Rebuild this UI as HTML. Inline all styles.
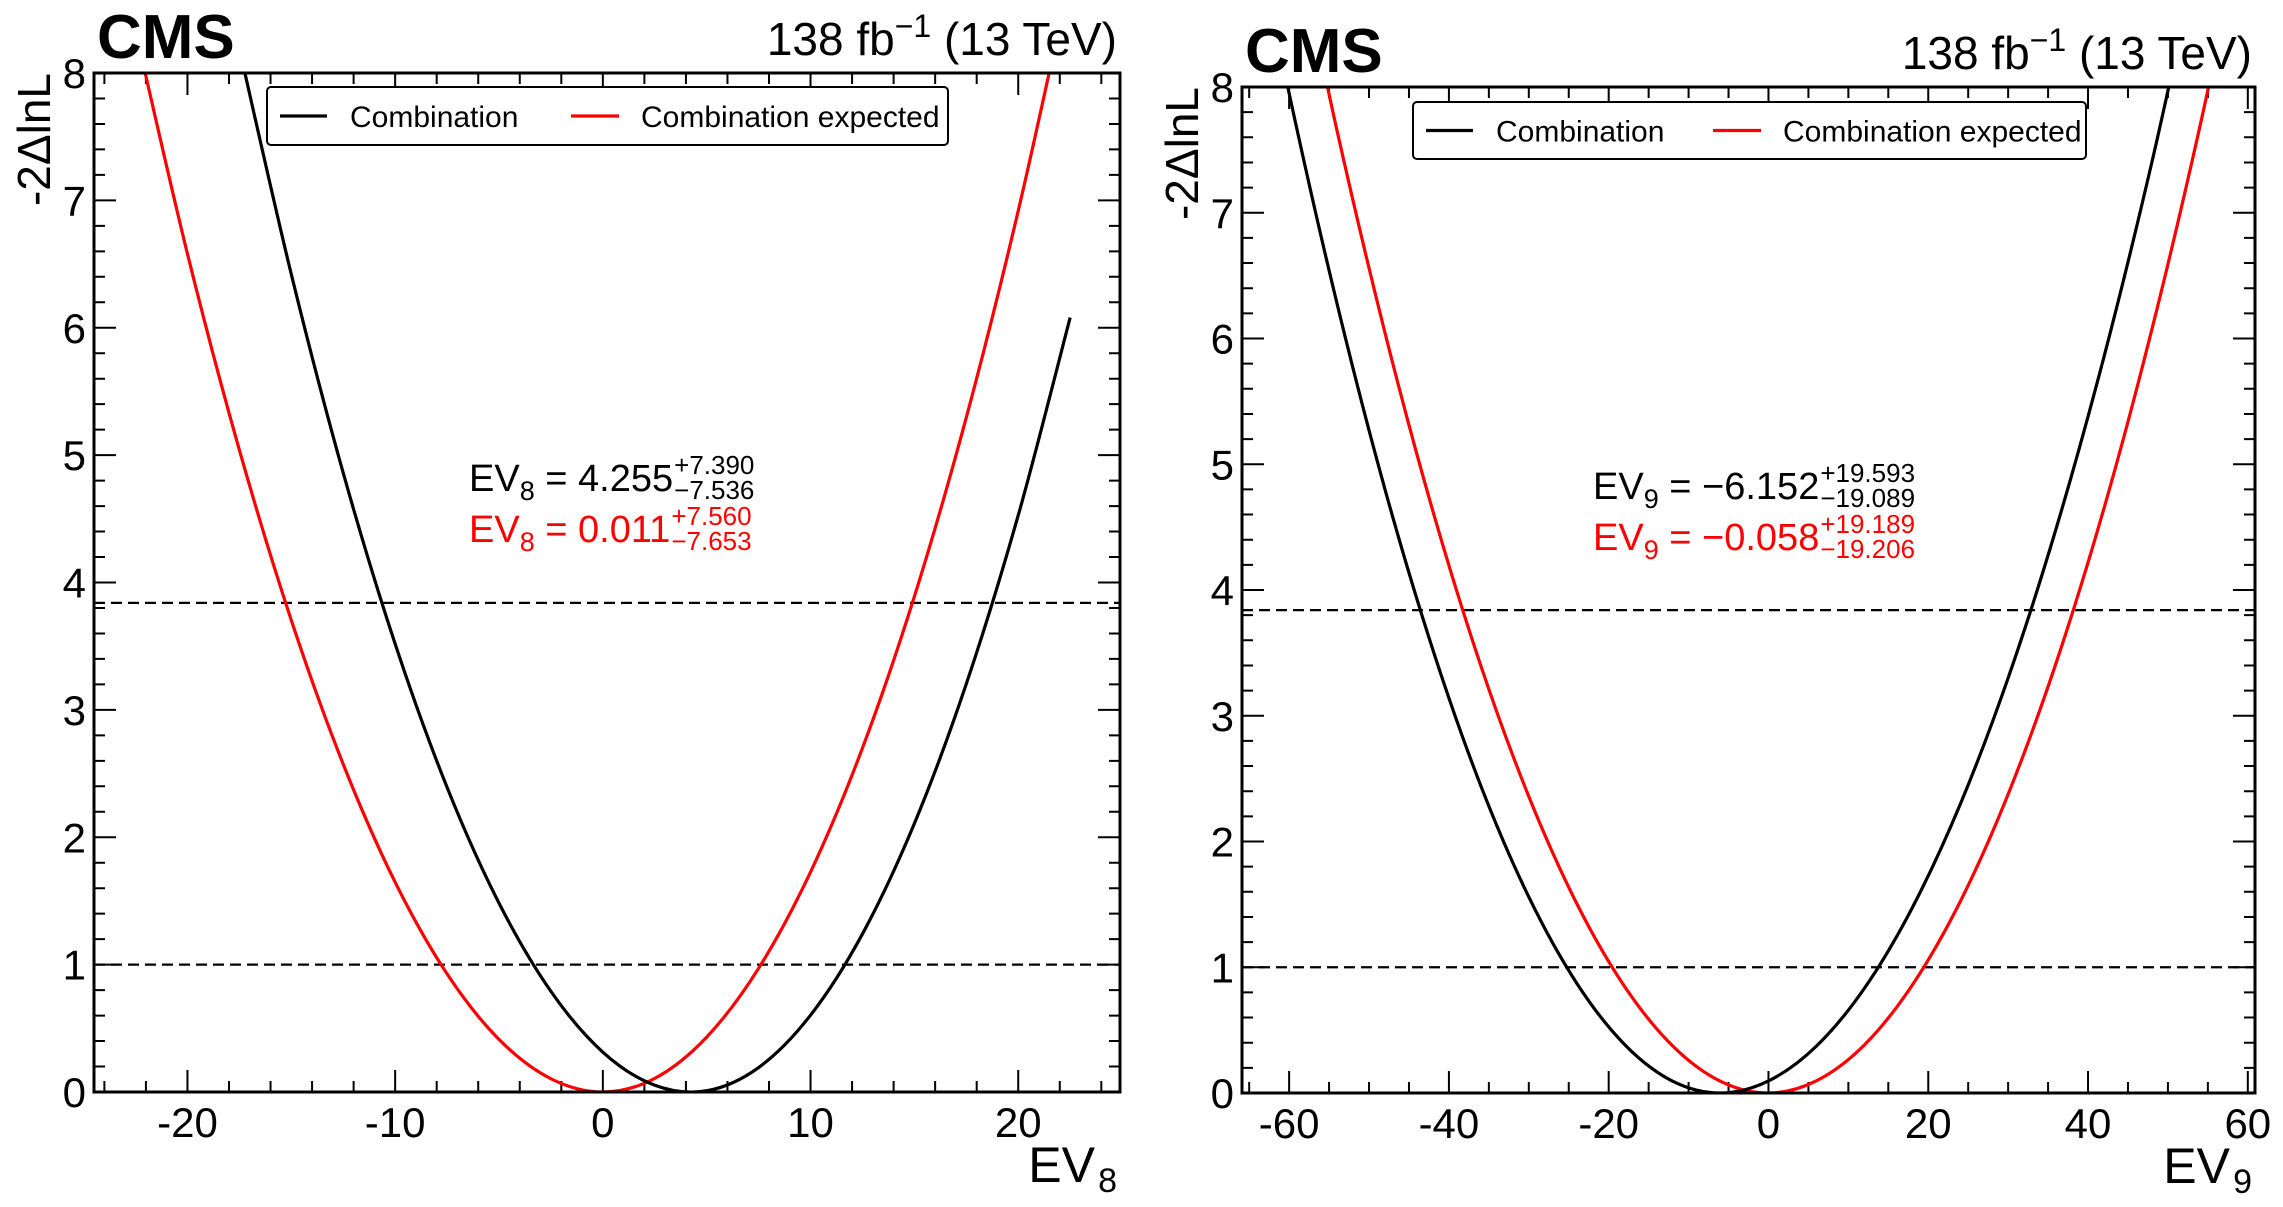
<!DOCTYPE html>
<html><head><meta charset="utf-8"><style>
html,body{margin:0;padding:0;background:#fff;}
svg{display:block;font-family:"Liberation Sans",sans-serif;}
</style></head><body>
<svg id="root" width="2283" height="1207" viewBox="0 0 2283 1207" xmlns="http://www.w3.org/2000/svg"></svg>
<script>
// ---- data ----
const ev8ObsX = [-17.5,-15,-12.5,-10,-7.5,-5,-2.5,0,2.5,5,7.5,10,12.5,15,17.5,20,22.5];
const ev8ObsY = [8.19,6.42,4.86,3.518,2.392,1.483,0.79,0.313,0.053,0.01,0.192,0.603,1.241,2.108,3.204,4.527,6.08];
const ev8ExpX = [-22.5,-20,-17.5,-15,-12.5,-10,-7.5,-5,-2.5,0,2.5,5,7.5,10,12.5,15,17.5,20,22.5];
const ev8ExpY = [8.33,6.58,5.04,3.704,2.573,1.647,0.927,0.413,0.104,0,0.107,0.431,0.971,1.727,2.7,3.89,5.296,6.918,8.756];
const ev9ObsX = [-66,-60,-54,-48,-42,-36,-30,-24,-18,-12,-6,0,6,12,18,24,30,36,42,48,54];
const ev9ObsY = [9.82,7.95,6.276,4.8,3.523,2.442,1.559,0.873,0.385,0.094,0,0.096,0.373,0.832,1.473,2.295,3.3,4.487,5.855,7.404,9.137];
const ev9ExpX = [-60,-54,-48,-42,-36,-30,-24,-18,-12,-6,0,6,12,18,24,30,36,42,48,54,60];
const ev9ExpY = [9.449,7.652,6.045,4.626,3.397,2.358,1.507,0.846,0.375,0.093,0,0.097,0.382,0.858,1.522,2.376,3.419,4.65,6.074,7.685,9.486];
const thresholds = [1, 3.84];
const ev8XTicks = [-20,-10,0,10,20];
const ev9XTicks = [-60,-40,-20,0,20,40,60];
const yTicks = [0,1,2,3,4,5,6,7,8];

const NS="http://www.w3.org/2000/svg";
const root=document.getElementById('root');
function mk(tag,attrs,parent){const e=document.createElementNS(NS,tag);for(const k in attrs)e.setAttribute(k,attrs[k]);(parent||root).appendChild(e);return e;}

function panel(cfg){
  const g=mk('g',{});
  
  
  const {L,R,T,B,xmin,xmax}=cfg;
  const sx=v=>L+(v-xmin)/(xmax-xmin)*(R-L);
  const sy=v=>B-v/8*(B-T);
  const clipId='clip'+cfg.name;
  const cp=mk('clipPath',{id:clipId},g);
  mk('rect',{x:L,y:T,width:R-L,height:B-T},cp);
  let d='';
  for(let v=Math.ceil(xmin/cfg.minor)*cfg.minor; v<=xmax+1e-9; v+=cfg.minor){
    const isMaj=Math.abs(v/cfg.major-Math.round(v/cfg.major))<1e-6;
    const len=isMaj?22:11, x=sx(v);
    d+=`M${x} ${B}V${B-len}M${x} ${T}V${T+len}`;
  }
  for(let v=0; v<=8+1e-9; v+=0.2){
    const isMaj=Math.abs(v-Math.round(v))<1e-6;
    const len=isMaj?22:11, y=sy(v);
    d+=`M${L} ${y}H${L+len}M${R} ${y}H${R-len}`;
  }
  const tk=mk('path',{d:d,stroke:'#000','stroke-width':2,fill:'none'},g);
  
  
  thresholds.forEach(t=>{
    const l=mk('line',{x1:L,x2:R,y1:sy(t),y2:sy(t),stroke:'#000','stroke-width':2.2,'stroke-dasharray':'11 6'},g);
    
    
  });
  function curve(xs,ys,color,name){
    const p=xs.map((x,i)=>[sx(x),sy(ys[i])]);
    let s=`M${p[0][0]} ${p[0][1]}`;
    for(let i=0;i<p.length-1;i++){
      const p0=p[i-1]||p[i],p1=p[i],p2=p[i+1],p3=p[i+2]||p[i+1];
      s+=`C${p1[0]+(p2[0]-p0[0])/6} ${p1[1]+(p2[1]-p0[1])/6} ${p2[0]-(p3[0]-p1[0])/6} ${p2[1]-(p3[1]-p1[1])/6} ${p2[0]} ${p2[1]}`;
    }
    const e=mk('path',{d:s,stroke:color,'stroke-width':3.2,fill:'none','clip-path':`url(#${clipId})`},g);
    
    
  }
  curve(cfg.expX,cfg.expY,'#ff0000','expected-curve');
  curve(cfg.obsX,cfg.obsY,'#000000','observed-curve');
  const fr=mk('rect',{x:L,y:T,width:R-L,height:B-T,fill:'none',stroke:'#000','stroke-width':3},g);
  
  
  cfg.xTicks.forEach(v=>{
    const t=mk('text',{x:sx(v),y:B+45,'font-size':42,'text-anchor':'middle'},g);t.textContent=v;
    
    
  });
  yTicks.forEach(v=>{
    const t=mk('text',{x:L-8,y:sy(v)+15,'font-size':42,'text-anchor':'end'},g);t.textContent=v;
    
    
  });
  const cms=mk('text',{x:L+3,y:cfg.cmsY,'font-size':62,'font-weight':'bold'},g);cms.textContent='CMS';
  
  const lumi=mk('text',{x:R-3,y:cfg.cmsY-3,'font-size':46,'text-anchor':'end'},g);
  lumi.innerHTML='138 fb<tspan dy="-18" font-size="32">−1</tspan><tspan dy="18"> (13 TeV)</tspan>';
  
  const yt=mk('text',{transform:`translate(${L-44},${T}) rotate(-90)`,'font-size':46,'text-anchor':'end'},g);yt.textContent='-2ΔlnL';
  
  const xt=mk('text',{x:R-3-22,y:B+90,'font-size':50,'text-anchor':'end'},g);xt.textContent='EV';
  
  const xs=mk('text',{x:R-3,y:B+100,'font-size':34,'text-anchor':'end'},g);xs.textContent=cfg.idx;
  
  const lg=mk('g',{},g);
  const lb=cfg.leg;
  mk('rect',{x:lb[0],y:lb[1],width:lb[2]-lb[0],height:lb[3]-lb[1],rx:4,fill:'#fff',stroke:'#000','stroke-width':2},lg);
  const cy=(lb[1]+lb[3])/2;
  const le1=mk('g',{},lg);
  mk('line',{x1:lb[0]+13,x2:lb[0]+60,y1:cy,y2:cy,stroke:'#000','stroke-width':3.2},le1);
  const t1=mk('text',{x:lb[0]+83,y:cy+11,'font-size':30},le1);t1.textContent='Combination';
  const le2=mk('g',{},lg);
  mk('line',{x1:lb[0]+cfg.legOff,x2:lb[0]+cfg.legOff+48,y1:cy,y2:cy,stroke:'#f00','stroke-width':3.2},le2);
  const t2=mk('text',{x:lb[0]+cfg.legOff+70,y:cy+11,'font-size':30},le2);t2.textContent='Combination expected';
  cfg.ann.forEach((a,i)=>{
    const base=cfg.annY+i*51, col=i?'#f00':'#000';
    const ag=mk('g',{fill:col},g);
    const t=mk('text',{x:cfg.annX,y:base,'font-size':38},ag);
    t.innerHTML=`EV<tspan dy="9" font-size="27">${cfg.idx}</tspan><tspan dy="-9"> = ${a[0]}</tspan>`;
    let w=0; try{w=t.getComputedTextLength();}catch(e){}
    const sX=w>0?cfg.annX+w+1:cfg.supX;
    const sp=mk('text',{x:sX,y:base-17,'font-size':26},ag);sp.textContent=a[1];
    const sb=mk('text',{x:sX,y:base+8,'font-size':26},ag);sb.textContent=a[2];
  });
}

panel({name:'ev8-panel',L:94,R:1120,T:73,B:1092,xmin:-24.5,xmax:24.9,major:10,minor:2,
  xTicks:ev8XTicks,obsX:ev8ObsX,obsY:ev8ObsY,expX:ev8ExpX,expY:ev8ExpY,idx:'8',
  cmsY:58,leg:[267,87,948,145],legOff:304,
  annX:469,annY:491,supX:667,ann:[['4.255','+7.390','−7.536'],['0.011','+7.560','−7.653']]});
panel({name:'ev9-panel',L:1242,R:2255,T:87,B:1093,xmin:-65.9,xmax:60.9,major:20,minor:5,
  xTicks:ev9XTicks,obsX:ev9ObsX,obsY:ev9ObsY,expX:ev9ExpX,expY:ev9ExpY,idx:'9',
  cmsY:72,leg:[1413,102,2086,159],legOff:300,
  annX:1593,annY:499,supX:1810,ann:[['−6.152','+19.593','−19.089'],['−0.058','+19.189','−19.206']]});
</script>
</body></html>
